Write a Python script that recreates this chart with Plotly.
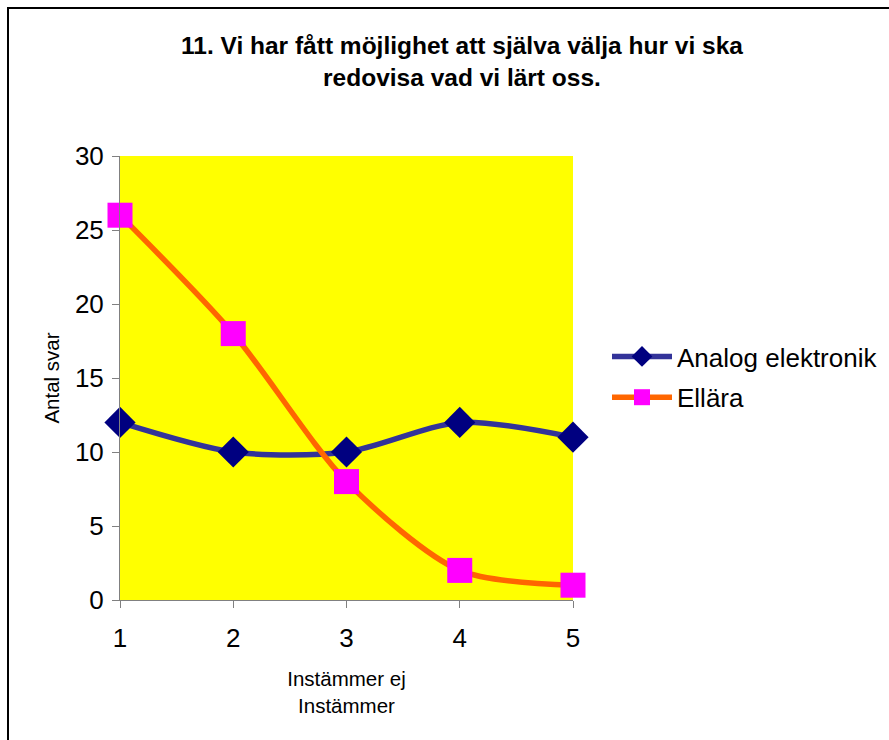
import plotly.graph_objects as go

x_vals = [1, 2, 3, 4, 5]
analog = [12, 10, 10, 12, 11]
ellara = [26, 18, 8, 2, 1]
series_names = ["Analog elektronik", "Ellära"]
title_text = "<b>11. Vi har fått möjlighet att själva välja hur vi ska<br>redovisa vad vi lärt oss.</b>"
y_title = "Antal svar"
x_title = "Instämmer ej<br>Instämmer"

fig = go.Figure()
fig.add_trace(go.Scatter(
    x=x_vals, y=analog, name=series_names[0], mode="lines+markers", cliponaxis=False,
    legendgroup="a",
    line=dict(color="#333399", width=5.5, shape="spline", smoothing=0.8),
    marker=dict(symbol="diamond", size=24, color="#000080"),
))
fig.add_trace(go.Scatter(
    x=x_vals, y=ellara, name=series_names[1], mode="lines+markers", cliponaxis=False,
    legendgroup="b",
    line=dict(color="#FF6600", width=5.5, shape="spline", smoothing=0.8),
    marker=dict(symbol="square", size=25, color="#FF00FF"),
))

fig.update_layout(
    width=889, height=740,
    margin=dict(l=120, r=316, t=156, b=140),
    paper_bgcolor="white", plot_bgcolor="#FFFF00",
    font=dict(family="Arial, Liberation Sans, sans-serif", color="black"),
    showlegend=True,
    legend=dict(xref="container", yref="container", x=607 / 889, y=1 - 377 / 740,
                xanchor="left", yanchor="middle",
                font=dict(size=26), bgcolor="rgba(0,0,0,0)",
                itemwidth=60, tracegroupgap=4),
    xaxis=dict(range=[1, 5], tickvals=x_vals, ticks="outside", ticklen=7,
               tickcolor="#808080", showline=True, linecolor="#808080", linewidth=1,
               showgrid=False, zeroline=False, tickfont=dict(size=26),
               ticklabelstandoff=8,
               title=dict(text=x_title, font=dict(size=20.5), standoff=19)),
    yaxis=dict(range=[0, 30], dtick=5, ticks="outside", ticklen=7,
               tickcolor="#808080", showline=True, linecolor="#808080", linewidth=1,
               showgrid=False, zeroline=False, tickfont=dict(size=26),
               ticklabelstandoff=3,
               title=dict(text=y_title, font=dict(size=20.5), standoff=9)),
)

fig.add_annotation(text=title_text, xref="paper", yref="paper",
                   x=(462 - 120) / 453, y=(600 - 62) / 444, showarrow=False,
                   xanchor="center", yanchor="middle",
                   font=dict(size=24.5), align="center")

fig.add_shape(type="rect", xref="paper", yref="paper",
              x0=(8 - 120) / 453, x1=(900 - 120) / 453,
              y0=(600 - 760) / 444, y1=(600 - 8) / 444,
              line=dict(color="black", width=2), fillcolor="rgba(0,0,0,0)", layer="below")

fig.write_html("out.html")
